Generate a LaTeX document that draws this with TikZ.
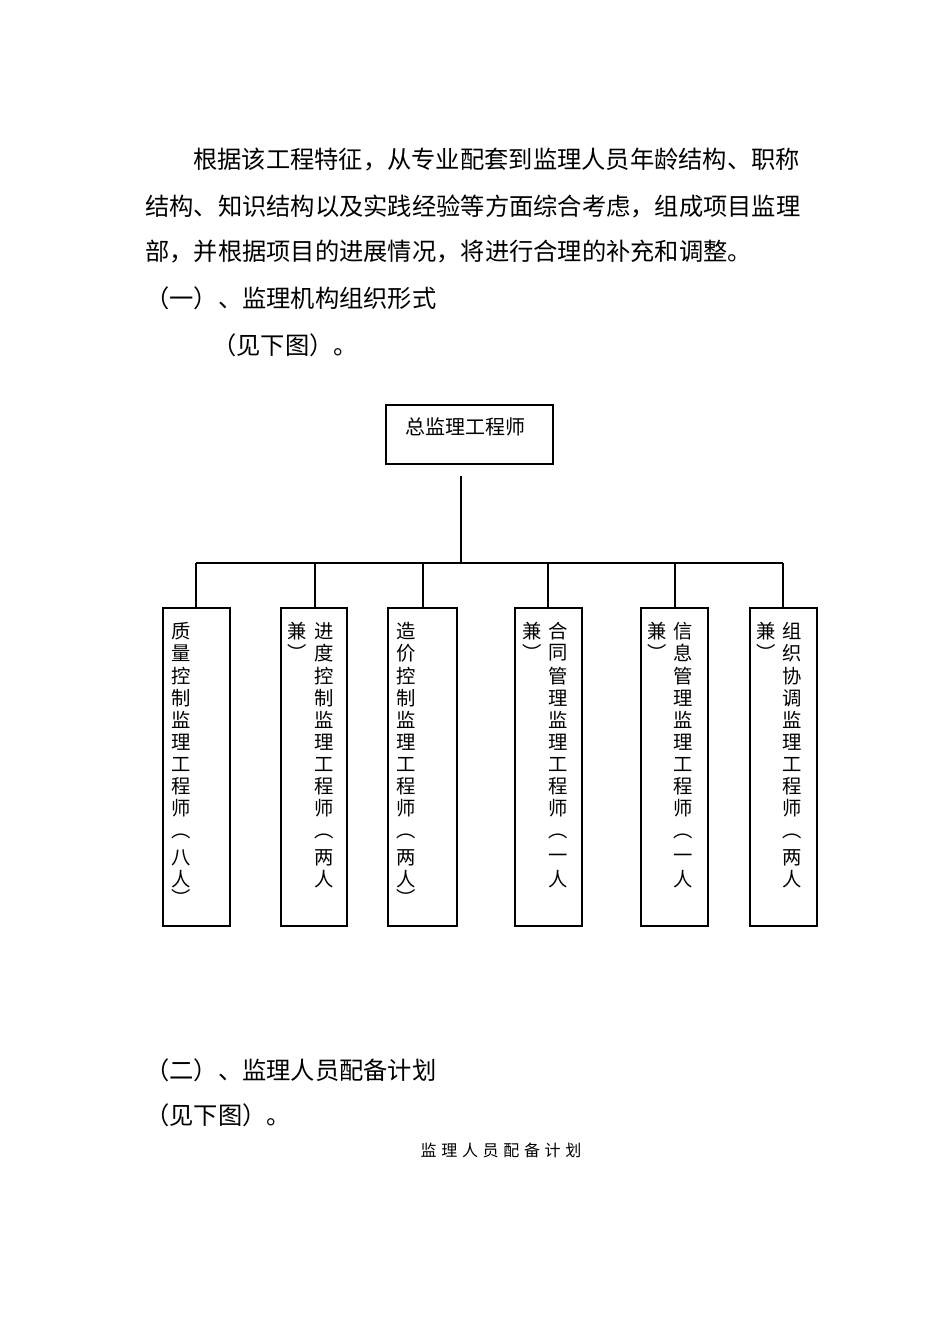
\documentclass[tikz,border=0pt]{standalone}
\usepackage{fontspec}
\newfontfamily\cjk{Noto Sans CJK SC}
\begin{document}
\begin{tikzpicture}[x=0.75pt,y=-0.75pt,
  txt/.style={inner sep=0pt,font=\cjk\fontsize{18.2pt}{18pt}\selectfont,anchor=west},
  vc/.style={inner sep=0pt,font=\cjk\fontsize{14.5pt}{14.5pt}\selectfont},
  ln/.style={line width=0.8pt}]
\useasboundingbox (0,0) rectangle (950,1344);
\node[txt] (p1) at (193,160) {根据该工程特征，从专业配套到监理人员年龄结构、职称};
\node[txt] (p2) at (145,207) {结构、知识结构以及实践经验等方面综合考虑，组成项目监理};
\node[txt] (p3) at (145,252) {部，并根据项目的进展情况，将进行合理的补充和调整。};
\node[txt] (h1) at (145,298) {（一）、监理机构组织形式};
\node[txt] (s1) at (212,345) {（见下图）。};
\node[txt] (h2) at (145,1070) {（二）、监理人员配备计划};
\node[txt] (s2) at (145,1115) {（见下图）。};
\node[inner sep=0pt,font=\cjk\fontsize{12pt}{12pt}\selectfont] (cap) at (501,1150) {监\hspace{3.5pt}理\hspace{3.5pt}人\hspace{3.5pt}员\hspace{3.5pt}配\hspace{3.5pt}备\hspace{3.5pt}计\hspace{3.5pt}划};
% top box
\node[draw,line width=0.8pt,inner sep=0pt,minimum width=167*0.75pt,minimum height=59*0.75pt] (top) at (469.5,434.5) {};
\node[inner sep=0pt,font=\cjk\fontsize{15pt}{15pt}\selectfont] (toptxt) at (465,427) {总监理工程师};
\coordinate (j1) at (461,476);
\coordinate (j2) at (461,563);
\draw[ln] (j1) -- (j2);
\coordinate (hl) at (196,563); \coordinate (hr) at (783,563);
\draw[ln] (hl) -- (hr);
% boxes
\foreach \l/\r in {163/230,281/347,388/457,515/582,641/708,750/817}{
  \draw[ln] (\l,608) rectangle (\r,926);
}
\foreach \xx in {196,315,423,548,675,783}{
  \draw[ln] (\xx,563) -- (\xx,608);
}
% vertical texts
\foreach \c/\yy in {质/631,量/653,控/676,制/698,监/720,理/742,工/764,程/786,师/808,︵/836,八/858,人/879,︶/897}
  \node[vc] at (181,\yy) {\c};
\foreach \c/\yy in {进/631,度/653,控/676,制/698,监/720,理/742,工/764,程/786,师/808,︵/836,两/858,人/879}
  \node[vc] at (324,\yy) {\c};
\foreach \c/\yy in {兼/631,︶/652} \node[vc] at (297,\yy) {\c};
\foreach \c/\yy in {造/631,价/653,控/676,制/698,监/720,理/742,工/764,程/786,师/808,︵/836,两/858,人/879,︶/897}
  \node[vc] at (406,\yy) {\c};
\foreach \c/\yy in {合/631,同/653,管/676,理/698,监/720,理/742,工/764,程/786,师/808,︵/836,一/858,人/879}
  \node[vc] at (558,\yy) {\c};
\foreach \c/\yy in {兼/631,︶/652} \node[vc] at (532,\yy) {\c};
\foreach \c/\yy in {信/631,息/653,管/676,理/698,监/720,理/742,工/764,程/786,师/808,︵/836,一/858,人/879}
  \node[vc] at (683,\yy) {\c};
\foreach \c/\yy in {兼/631,︶/652} \node[vc] at (657,\yy) {\c};
\foreach \c/\yy in {组/631,织/653,协/676,调/698,监/720,理/742,工/764,程/786,师/808,︵/836,两/858,人/879}
  \node[vc] at (792,\yy) {\c};
\foreach \c/\yy in {兼/631,︶/652} \node[vc] at (766,\yy) {\c};
\end{tikzpicture}
\end{document}
